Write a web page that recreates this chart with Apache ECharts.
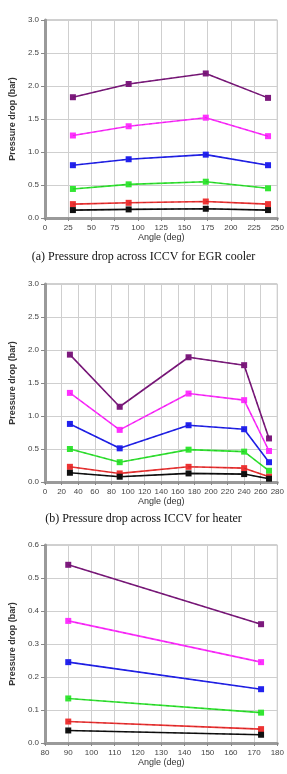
<!DOCTYPE html>
<html>
<head>
<meta charset="utf-8">
<script src="https://cdn.jsdelivr.net/npm/echarts@6/dist/echarts.min.js"></script>
<style>
html, body { margin: 0; padding: 0; background: #fff; }
#main { width: 287px; height: 774px; }
</style>
</head>
<body>
<div id="main"></div>
<script>
// (a) EGR cooler
var anglesA = [30, 90, 173, 240];
var purpleA = [1.83, 2.03, 2.19, 1.82];
var magentaA = [1.25, 1.39, 1.52, 1.24];
var blueA = [0.80, 0.89, 0.96, 0.80];
var greenA = [0.44, 0.51, 0.55, 0.45];
var redA = [0.21, 0.23, 0.25, 0.21];
var blackA = [0.12, 0.13, 0.14, 0.12];

// (b) heater
var anglesB = [30, 90, 173, 240, 270];
var purpleB = [1.93, 1.14, 1.89, 1.77, 0.66];
var magentaB = [1.35, 0.79, 1.34, 1.24, 0.47];
var blueB = [0.88, 0.51, 0.86, 0.80, 0.30];
var greenB = [0.50, 0.30, 0.49, 0.46, 0.17];
var redB = [0.23, 0.13, 0.23, 0.21, 0.08];
var blackB = [0.14, 0.08, 0.13, 0.12, 0.05];

// (c)
var anglesC = [90, 173];
var purpleC = [0.54, 0.36];
var magentaC = [0.37, 0.245];
var blueC = [0.245, 0.163];
var greenC = [0.135, 0.092];
var redC = [0.065, 0.042];
var blackC = [0.038, 0.025];

var colors = ['#7d1a7d', '#ff30ff', '#2222ee', '#33e633', '#ee3333', '#111111'];
var dashColors = ['#5a105a', '#cc20cc', '#1515aa', '#22aa22', '#aa2222', '#000000'];

var captionA = '(a) Pressure drop across ICCV for EGR cooler';
var captionB = '(b) Pressure drop across ICCV for heater';

var panels = [
    { x: anglesA, ys: [purpleA, magentaA, blueA, greenA, redA, blackA], top: 20, xmin: 0, xmax: 250, xstep: 25, ymax: 3, ystep: 0.5 },
    { x: anglesB, ys: [purpleB, magentaB, blueB, greenB, redB, blackB], top: 284, xmin: 0, xmax: 280, xstep: 20, ymax: 3, ystep: 0.5 },
    { x: anglesC, ys: [purpleC, magentaC, blueC, greenC, redC, blackC], top: 545, xmin: 80, xmax: 180, xstep: 10, ymax: 0.6, ystep: 0.1 }
];

var myChart = echarts.init(document.getElementById('main'));

var grids = [], xAxes = [], yAxes = [], series = [];
panels.forEach(function (p, i) {
    grids.push({
        left: 31, top: p.top, width: 247, height: 198,
        show: true, borderColor: '#a0a0a0', borderWidth: 1, backgroundColor: '#fff'
    });
    xAxes.push({
        type: 'value', gridIndex: i, min: p.xmin, max: p.xmax, interval: p.xstep,
        name: 'Angle (deg)', nameLocation: 'middle', nameGap: 15,
        nameTextStyle: { fontFamily: 'Liberation Sans', fontSize: 9, color: '#333' },
        axisLine: { lineStyle: { color: '#9a9a9a', width: 3 } },
        axisTick: { length: 3, lineStyle: { color: '#888' } },
        axisLabel: { fontFamily: 'Liberation Sans', fontSize: 8, color: '#444', margin: 6 },
        splitLine: { show: true, lineStyle: { color: '#cfcfcf', width: 1 } }
    });
    yAxes.push({
        type: 'value', gridIndex: i, min: 0, max: p.ymax, interval: p.ystep,
        name: 'Pressure drop (bar)', nameLocation: 'middle', nameGap: 23,
        nameTextStyle: { fontFamily: 'Liberation Sans', fontSize: 9, fontWeight: 'bold', color: '#333' },
        axisLine: { show: true, lineStyle: { color: '#9a9a9a', width: 3 } },
        axisTick: { show: true, length: 4, lineStyle: { color: '#888' } },
        axisLabel: {
            fontFamily: 'Liberation Sans', fontSize: 8, color: '#444', margin: 6,
            formatter: function (v) { return v.toFixed(1); }
        },
        splitLine: { show: true, lineStyle: { color: '#cfcfcf', width: 1 } }
    });
    p.ys.forEach(function (vals, k) {
        var data = p.x.map(function (a, j) { return [a, vals[j]]; });
        series.push({
            type: 'line', xAxisIndex: i, yAxisIndex: i, data: data,
            symbol: 'rect', symbolSize: 6,
            itemStyle: { color: colors[k] },
            lineStyle: { color: colors[k], width: 1.6 },
            z: 3
        });
        // dashed overlay
        series.push({
            type: 'line', xAxisIndex: i, yAxisIndex: i, data: data,
            symbol: 'none',
            lineStyle: { color: dashColors[k], width: 1, type: [3, 4], opacity: 0.6 },
            z: 4
        });
    });
});

option = {
    animation: false,
    backgroundColor: '#fff',
    title: [
        { text: captionA, left: 'center', top: 246, textStyle: { fontFamily: 'Liberation Serif', fontSize: 12, fontWeight: 'normal', color: '#111' } },
        { text: captionB, left: 'center', top: 508, textStyle: { fontFamily: 'Liberation Serif', fontSize: 12, fontWeight: 'normal', color: '#111' } }
    ],
    grid: grids,
    xAxis: xAxes,
    yAxis: yAxes,
    series: series
};

myChart.setOption(option, true);
window.addEventListener('resize', function () { myChart.resize(); });
</script>
</body>
</html>
